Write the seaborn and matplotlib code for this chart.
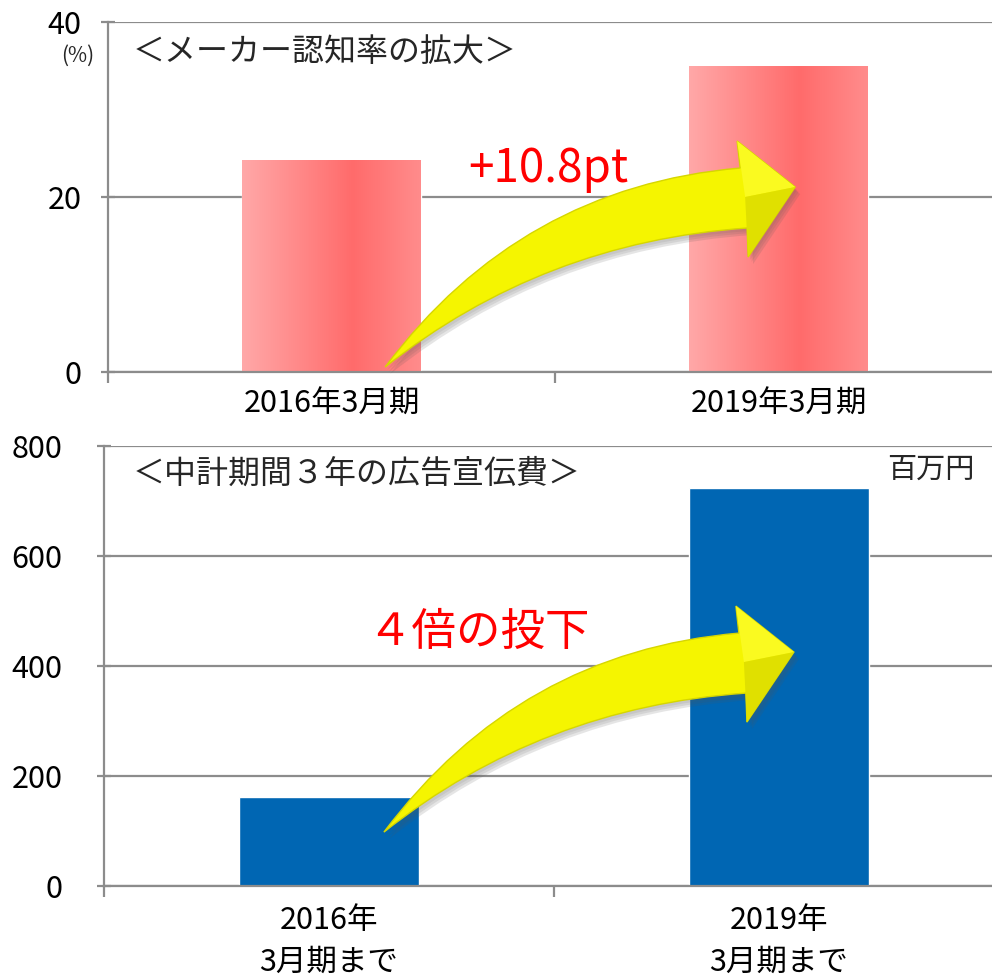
import numpy as np
import pandas as pd
import seaborn as sns
import matplotlib.pyplot as plt
from matplotlib.path import Path
from matplotlib.patches import PathPatch
from matplotlib.colors import LinearSegmentedColormap
from matplotlib import transforms

# ---------------- data ----------------
top_categories = ["2016年3月期", "2019年3月期"]
top_values = [24.2, 35.0]            # メーカー認知率 (%)
top_yticks = [0, 20, 40]

bottom_categories = ["2016年\n3月期まで", "2019年\n3月期まで"]
bottom_values = [162, 724]           # 広告宣伝費 (百万円)
bottom_yticks = [0, 200, 400, 600, 800]

top_title = "＜メーカー認知率の拡大＞"
bottom_title = "＜中計期間３年の広告宣伝費＞"
top_note = "+10.8pt"
bottom_note = "４倍の投下"
unit_label = "百万円"
pct_label = "(%)"

# ---------------- style ----------------
sns.set_theme(style="white")
plt.rcParams['font.family'] = ['Noto Sans CJK JP', 'DejaVu Sans']
GRAY = '#8C8C8C'

fig = plt.figure(figsize=(9.92, 9.80), dpi=100)
W, H = 992, 980
ax1 = fig.add_axes([108 / W, (H - 372) / H, 894 / W, 350 / H])
ax2 = fig.add_axes([104 / W, (H - 886) / H, 900 / W, 440 / H])


def style_axes(ax, cats, yticks, ypad, xpad):
    ax.set_axisbelow(True)
    ax.yaxis.grid(True, color=GRAY, lw=1.6)
    ax.xaxis.grid(False)
    for s in ['top', 'right']:
        ax.spines[s].set_visible(False)
    for s in ['left', 'bottom']:
        ax.spines[s].set_color(GRAY)
        ax.spines[s].set_linewidth(1.6)
    ax.set_ylim(yticks[0], yticks[-1])
    ax.set_yticks(yticks)
    ax.set_yticklabels([str(v) for v in yticks], fontsize=22)
    ax.tick_params(axis='y', which='major', direction='inout', length=10, width=1.6,
                   color=GRAY, pad=ypad, left=True, labelcolor='black')
    ax.set_xlim(-0.5, 1.5)
    ax.set_xticks([-0.5, 0.5, 1.5])
    ax.set_xticklabels(['', '', ''])
    ax.set_xticks([0, 1], minor=True)
    ax.set_xticklabels(cats, minor=True, fontsize=22, linespacing=1.45)
    ax.tick_params(axis='x', which='major', direction='out', length=8, width=1.6,
                   color=GRAY, bottom=True)
    ax.tick_params(axis='x', which='minor', length=0, pad=xpad, bottom=True,
                   labelcolor='black')
    ax.set_xlabel('')
    ax.set_ylabel('')


# ---------------- top chart ----------------
df_top = pd.DataFrame({"cat": top_categories, "val": top_values})
sns.barplot(data=df_top, x="cat", y="val", ax=ax1, color='#FF7878',
            saturation=1, width=0.4)
pink = LinearSegmentedColormap.from_list(
    'pink', [(0.0, '#FFA8A8'), (0.62, '#FF6B6B'), (1.0, '#FF8C8C')])
grad = np.linspace(0, 1, 256).reshape(1, -1)
for p in list(ax1.patches):
    x0, y0 = p.get_x(), p.get_y()
    w, h = p.get_width(), p.get_height()
    im = ax1.imshow(grad, cmap=pink, extent=[x0, x0 + w, y0, y0 + h],
                    aspect='auto', zorder=p.get_zorder() + 0.1,
                    interpolation='bicubic')
    im.set_clip_path(p)
style_axes(ax1, top_categories, top_yticks, ypad=14, xpad=12)

# ---------------- bottom chart ----------------
df_bot = pd.DataFrame({"cat": bottom_categories, "val": bottom_values})
sns.barplot(data=df_bot, x="cat", y="val", ax=ax2, color='#0066B3',
            saturation=1, width=0.4)
style_axes(ax2, bottom_categories, bottom_yticks, ypad=25, xpad=14)


# ---------------- curved yellow arrows ----------------
def draw_arrow(ax, x_data, y_data):
    # shape in pixels relative to the tail (y up)
    verts = [(0, 0), (135, 180), (355, 199),
             (352, 226), (410, 180), (363, 110), (362, 139),
             (158, 125), (0, 0), (0, 0)]
    codes = [Path.MOVETO, Path.CURVE3, Path.CURVE3,
             Path.LINETO, Path.LINETO, Path.LINETO, Path.LINETO,
             Path.CURVE3, Path.CURVE3, Path.CLOSEPOLY]
    path = Path(verts, codes)
    base = transforms.ScaledTranslation(x_data, y_data, ax.transData)
    for i, a in enumerate([0.10, 0.12, 0.15]):
        sh = PathPatch(path, facecolor='#555555', edgecolor='none', alpha=a,
                       transform=transforms.Affine2D().translate(2 + i * 1.5, -3 - i * 2) + base,
                       zorder=5, clip_on=False)
        ax.add_patch(sh)
    body = PathPatch(path, facecolor='#F5F500', edgecolor='#D6D600', lw=1.0,
                     transform=transforms.Affine2D() + base, zorder=6, clip_on=False)
    ax.add_patch(body)
    # head facets for a 3D look
    up = Path([(352, 226), (410, 180), (360, 170), (352, 226)],
              [Path.MOVETO, Path.LINETO, Path.LINETO, Path.CLOSEPOLY])
    lo = Path([(360, 170), (410, 180), (363, 110), (360, 170)],
              [Path.MOVETO, Path.LINETO, Path.LINETO, Path.CLOSEPOLY])
    ax.add_patch(PathPatch(up, facecolor='#FAFA20', edgecolor='none',
                           transform=transforms.Affine2D() + base, zorder=7, clip_on=False))
    ax.add_patch(PathPatch(lo, facecolor='#E0E000', edgecolor='none',
                           transform=transforms.Affine2D() + base, zorder=7, clip_on=False))


draw_arrow(ax1, 0.12, 0.57)
draw_arrow(ax2, 0.122, 98)

# ---------------- texts ----------------
fig.text(133 / W, 1 - 52 / H, top_title, fontsize=23, ha='left', va='center')
fig.text(78 / W, 1 - 56 / H, pct_label, fontsize=15, ha='center', va='center')
fig.text(548 / W, 1 - 169 / H, top_note, fontsize=33, color='#FF0000',
         ha='center', va='center', zorder=10)

fig.text(133 / W, 1 - 474 / H, bottom_title, fontsize=23, ha='left', va='center')
fig.text(931 / W, 1 - 470 / H, unit_label, fontsize=21, ha='center', va='center')
fig.text(478 / W, 1 - 632 / H, bottom_note, fontsize=32, color='#FF0000',
         ha='center', va='center', zorder=10)

fig.savefig('out.png', dpi=100, facecolor='white')
